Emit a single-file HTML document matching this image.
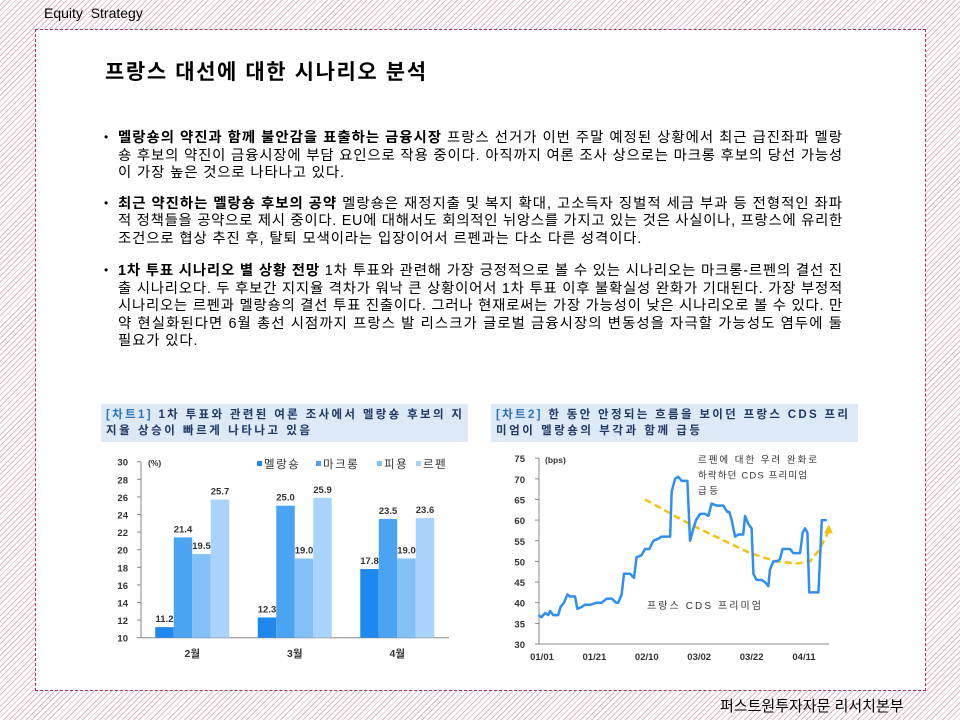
<!DOCTYPE html>
<html><head><meta charset="utf-8">
<style>
body{margin:0;width:960px;height:720px;position:relative;overflow:hidden;background:#fff repeating-linear-gradient(135deg,#fff 0 3px,#e2b8c5 3px 4px);font-family:"Liberation Sans","Noto Sans CJK KR",sans-serif;color:#000}
.hdr{position:absolute;left:44px;top:5px;font-size:14px}
.box{position:absolute;left:35px;top:29px;width:889px;height:660px;background:#fff;border:1px dashed #b0304f}
.title{position:absolute;left:105px;top:56px;font-size:21px;font-weight:bold;letter-spacing:1.6px}
.ln{position:absolute;left:118px;font-size:14.4px;white-space:nowrap;line-height:17px}
.bul{position:absolute;left:104px;font-size:12px}
.foot{position:absolute;left:720px;top:695px;font-size:15px}
svg text{font-family:"Liberation Sans","Noto Sans CJK KR",sans-serif}
</style></head><body>
<div class="hdr">Equity&nbsp; Strategy</div>
<div class="box"></div>
<div class="title">프랑스 대선에 대한 시나리오 분석</div>

<div class="bul" style="top:130px">•</div>
<div class="ln fit" style="top:130px"><b>멜랑숑의 약진과 함께 불안감을 표출하는 금융시장</b> 프랑스 선거가 이번 주말 예정된 상황에서 최근 급진좌파 멜랑</div>
<div class="ln fit" style="top:148px">숑 후보의 약진이 금융시장에 부담 요인으로 작용 중이다. 아직까지 여론 조사 상으로는 마크롱 후보의 당선 가능성</div>
<div class="ln" style="top:165px">이 가장 높은 것으로 나타나고 있다.</div>

<div class="bul" style="top:196px">•</div>
<div class="ln fit" style="top:196px"><b>최근 약진하는 멜랑숑 후보의 공약</b> 멜랑숑은 재정지출 및 복지 확대, 고소득자 징벌적 세금 부과 등 전형적인 좌파</div>
<div class="ln fit" style="top:213px">적 정책들을 공약으로 제시 중이다. EU에 대해서도 회의적인 뉘앙스를 가지고 있는 것은 사실이나, 프랑스에 유리한</div>
<div class="ln" style="top:231px">조건으로 협상 추진 후, 탈퇴 모색이라는 입장이어서 르펜과는 다소 다른 성격이다.</div>

<div class="bul" style="top:263px">•</div>
<div class="ln fit" style="top:263px"><b>1차 투표 시나리오 별 상황 전망</b> 1차 투표와 관련해 가장 긍정적으로 볼 수 있는 시나리오는 마크롱-르펜의 결선 진</div>
<div class="ln fit" style="top:281px">출 시나리오다. 두 후보간 지지율 격차가 워낙 큰 상황이어서 1차 투표 이후 불확실성 완화가 기대된다. 가장 부정적</div>
<div class="ln fit" style="top:298px">시나리오는 르펜과 멜랑숑의 결선 투표 진출이다. 그러나 현재로써는 가장 가능성이 낮은 시나리오로 볼 수 있다. 만</div>
<div class="ln fit" style="top:316px">약 현실화된다면 6월 총선 시점까지 프랑스 발 리스크가 글로벌 금융시장의 변동성을 자극할 가능성도 염두에 둘</div>
<div class="ln" style="top:333px">필요가 있다.</div>

<svg id="c1" style="position:absolute;left:0;top:0" width="960" height="720">
<rect x="101" y="404" width="367" height="38" fill="#dde9f7"/>
<text x="106" y="418" font-size="11.5" font-weight="bold" fill="#1f3864" textLength="356" lengthAdjust="spacing"><tspan fill="#2e75b6">[차트1]</tspan> 1차 투표와 관련된 여론 조사에서 멜랑숑 후보의 지</text>
<text x="106" y="434" font-size="11.5" font-weight="bold" fill="#1f3864" textLength="204" lengthAdjust="spacing">지율 상승이 빠르게 나타나고 있음</text>
</svg>
<svg id="c2" style="position:absolute;left:0;top:0" width="960" height="720">
<rect x="491" y="404" width="367" height="38" fill="#dde9f7"/>
<text x="496" y="418" font-size="11.5" font-weight="bold" fill="#1f3864" textLength="352" lengthAdjust="spacing"><tspan fill="#2e75b6">[차트2]</tspan> 한 동안 안정되는 흐름을 보이던 프랑스 CDS 프리</text>
<text x="496" y="434" font-size="11.5" font-weight="bold" fill="#1f3864" textLength="204" lengthAdjust="spacing">미엄이 멜랑숑의 부각과 함께 급등</text>
</svg>
<div class="foot">퍼스트원투자자문 리서치본부</div>

<script>
// ---- Chart 1 data ----
const c1Categories = ['2월','3월','4월'];
const c1Series = ['멜랑숑','마크롱','피용','르펜'];
const c1Melenchon = [11.2, 12.3, 17.8];
const c1Macron = [21.4, 25.0, 23.5];
const c1Fillon = [19.5, 19.0, 19.0];
const c1LePen = [25.7, 25.9, 23.6];
const c1Ticks = [10,12,14,16,18,20,22,24,26,28,30];

// ---- Chart 2 data ----
const c2Days = [-1.4,-0.2,1.2,2.4,3.1,4.3,5.6,6.2,7.1,8.4,9.7,10.7,12.6,13.5,15.2,16.4,17.3,18.3,20.9,22.8,24.7,26.6,28.3,29.1,30.4,31.3,33.6,35.1,36.1,38.0,39.3,41.0,42.5,44.4,45.7,47.6,48.9,49.5,50.8,52.0,53.3,55.5,56.5,57.8,58.8,60.3,62.2,63.5,64.7,66.7,69.2,70.7,71.5,72.4,73.7,74.9,76.8,77.5,78.8,80.0,80.7,81.9,83.8,85.1,86.4,87.0,88.3,89.5,90.8,91.8,93.4,94.7,95.9,97.2,98.5,99.5,100.4,101.3,102.0,102.9,105.5,106.8,108.7];
const c2Values = [37,36.5,37.5,37,38,37,37,37,39,40,42,41.5,41.5,38.5,39,39.5,39.5,39.5,40,40,41,41,40,40,42,47,47,46,51,51.5,53,53,55,55.5,56,56,56,67,70,70.5,69.5,69.5,55,58,60,61.5,61.5,61,64,63.5,63.5,62,62,60,56,56.5,56.5,61,59,58,47,45.5,45.5,45,44,48,50,50,50.5,53,53,53,52,52,52,57,58,57,42.5,42.5,42.5,60,60];
const c2TrendDays = [39.3,56.5,79.4,89.5,97.2,102.3,106.1,109.5];
const c2TrendValues = [65,59,52,50,49.5,50,53,57.5];
const c2XLabels = ['01/01','01/21','02/10','03/02','03/22','04/11'];
const c2XLabelDays = [0,20,40,60,80,100];
const c2Ticks = [30,35,40,45,50,55,60,65,70,75];

// stretch full-width body lines to the reference measure
(function(){
  const target=725; let sum=0,cnt=0;
  document.querySelectorAll('.ln.fit').forEach(el=>{
    const n=el.textContent.length, w=el.getBoundingClientRect().width;
    const ls=(target-w)/n; el.style.letterSpacing=ls+'px'; sum+=ls; cnt++;
  });
  const avg=sum/cnt;
  document.querySelectorAll('.ln:not(.fit)').forEach(el=>{el.style.letterSpacing=avg+'px';});
})();

const NS='http://www.w3.org/2000/svg';
function mk(svg,tag,attrs,txt){const e=document.createElementNS(NS,tag);for(const k in attrs)e.setAttribute(k,attrs[k]);if(txt!==undefined)e.textContent=txt;svg.appendChild(e);return e;}

// Chart 1
(function(){
const s=document.getElementById('c1');
const y=v=>637.7-(v-10)*8.8;
const x0=141, groupW=102.5, barW=18.5, gx=i=>x0+groupW*i+groupW/2;
const colors=['#1e88ef','#4ba3f3','#82c0f6','#a9d3fa'];
const all=[c1Melenchon,c1Macron,c1Fillon,c1LePen];
c1Ticks.forEach(t=>{
  const tl=mk(s,'text',{x:128,y:y(t)+4,'font-size':9.5,'font-weight':'bold','text-anchor':'end',fill:'#333'},t);
  
  
  const tk=mk(s,'line',{x1:137,x2:141,y1:y(t),y2:y(t),stroke:'#888'});
  
  
});
const ax=mk(s,'line',{x1:141,x2:141,y1:y(30),y2:y(10),stroke:'#888'});


const bx=mk(s,'line',{x1:141,x2:449,y1:y(10),y2:y(10),stroke:'#888'});


const un=mk(s,'text',{x:148,y:466,'font-size':8.5,'font-weight':'bold',fill:'#333'},'(%)');


c1Categories.forEach((c,i)=>{
  const cl=mk(s,'text',{x:gx(i),y:657,'font-size':10.5,'font-weight':'bold','text-anchor':'middle',fill:'#333'},c);
  
  
  all.forEach((ser,j)=>{
    const bxp=gx(i)-2*barW+j*barW, v=ser[i];
    const r=mk(s,'rect',{x:bxp,y:y(v),width:barW,height:y(10)-y(v),fill:colors[j]});
    
    
    const t=mk(s,'text',{x:bxp+barW/2,y:y(v)-5,'font-size':9.5,'font-weight':'bold','text-anchor':'middle',fill:'#333'},v.toFixed(1));
    
    
  });
});
const lx=[257,316,377,416];
c1Series.forEach((n,j)=>{
  const r=mk(s,'rect',{x:lx[j],y:461,width:5,height:5,fill:colors[j]});
  
  
  const t=mk(s,'text',{x:lx[j]+7,y:468,'font-size':11.5,'letter-spacing':1.5,fill:'#333'},n);
  
  
});
})();

// Chart 2
(function(){
const s=document.getElementById('c2');
const y=v=>644-(v-30)*4.13;
const x=d=>542+d*2.62;
c2Ticks.forEach(t=>{
  const tl=mk(s,'text',{x:525,y:y(t)+4,'font-size':9.5,'font-weight':'bold','text-anchor':'end',fill:'#333'},t);
  
  
  const tk=mk(s,'line',{x1:535,x2:539,y1:y(t),y2:y(t),stroke:'#888'});
  
  
});
const ax=mk(s,'line',{x1:539,x2:539,y1:y(75),y2:y(30),stroke:'#888'});


const bx=mk(s,'line',{x1:539,x2:829,y1:y(30),y2:y(30),stroke:'#888'});


c2XLabels.forEach((l,i)=>{
  const t=mk(s,'text',{x:x(c2XLabelDays[i]),y:660,'font-size':9.5,'font-weight':'bold','text-anchor':'middle',fill:'#333'},l);
  
  
});
const un=mk(s,'text',{x:545,y:463,'font-size':8.5,'font-weight':'bold',fill:'#333'},'(bps)');


const tp=c2TrendDays.map((d,i)=>x(d)+','+y(c2TrendValues[i])).join(' ');
const tr=mk(s,'polyline',{points:tp,fill:'none',stroke:'#f5c010','stroke-width':2.5,'stroke-dasharray':'7 4','stroke-linejoin':'round'});


const n=c2TrendDays.length, ex=x(c2TrendDays[n-1]), ey=y(c2TrendValues[n-1]);
const ar=mk(s,'polygon',{points:`${ex},${ey-6} ${ex-5},${ey+3} ${ex+4},${ey+3}`,fill:'#f5c010'});


const lp=c2Days.map((d,i)=>x(d)+','+y(c2Values[i])).join(' ');
const ln=mk(s,'polyline',{points:lp,fill:'none',stroke:'#2f8ff0','stroke-width':2.5,'stroke-linejoin':'round'});


[['르펜에 대한 우려 완화로',119],['하락하던 CDS 프리미엄',109],['급등',20]].forEach((t,i)=>{
  const e=mk(s,'text',{x:698,y:463+i*15.5,'font-size':9.5,fill:'#333',textLength:t[1],lengthAdjust:'spacing'},t[0]);
  
  
});
const sl=mk(s,'text',{x:647,y:609,'font-size':10,fill:'#333',textLength:114,lengthAdjust:'spacing'},'프랑스 CDS 프리미엄');


})();
</script>
</body></html>
